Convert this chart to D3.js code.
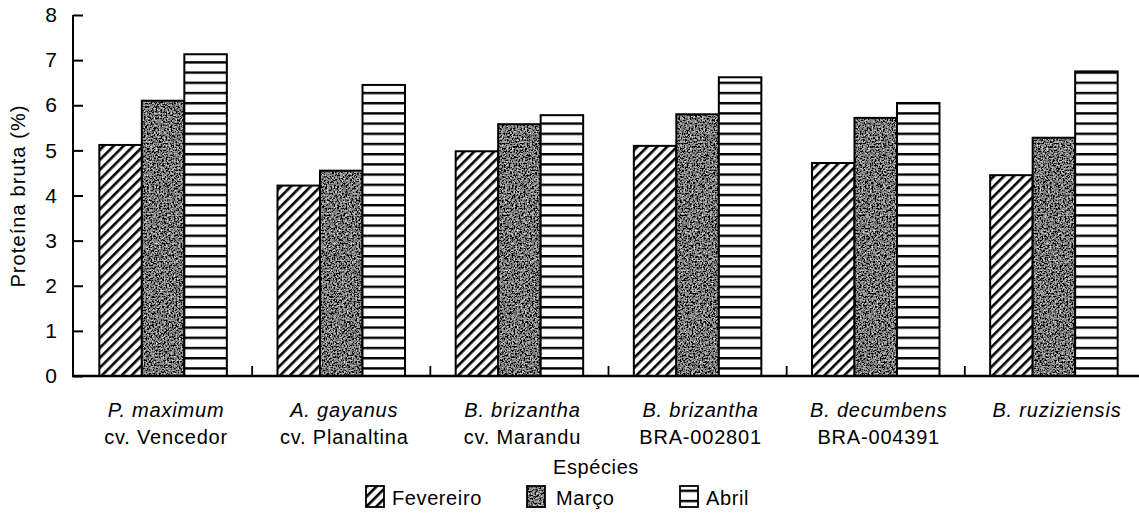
<!DOCTYPE html>
<html>
<head>
<meta charset="utf-8">
<script src="https://cdn.jsdelivr.net/npm/d3@7"></script>
<style>
  html, body { margin: 0; padding: 0; background: #fff; }
  svg { display: block; }
  text { font-family: "Liberation Sans", Arial, Helvetica, sans-serif; fill: #000; }
</style>
</head>
<body>
<svg id="chart" width="1139" height="525"></svg>
<script>
// ---- data ----
const speciesLine1 = ["P. maximum", "A. gayanus", "B. brizantha", "B. brizantha", "B. decumbens", "B. ruziziensis"];
const speciesLine2 = ["cv. Vencedor", "cv. Planaltina", "cv. Marandu", "BRA-002801", "BRA-004391", ""];
const months = ["Fevereiro", "Março", "Abril"];
const fevereiro = [5.12, 4.22, 4.98, 5.10, 4.72, 4.45];
const marco     = [6.10, 4.55, 5.58, 5.80, 5.72, 5.28];
const abril     = [7.13, 6.45, 5.78, 6.62, 6.05, 6.75];
const yTicks = [0, 1, 2, 3, 4, 5, 6, 7, 8];

const seriesValues = [fevereiro, marco, abril];

const svg = d3.select("#chart");
const defs = svg.append("defs");

// hatch pattern (Fevereiro)
const hatch = defs.append("pattern")
  .attr("id", "hatch").attr("patternUnits", "userSpaceOnUse")
  .attr("width", 7).attr("height", 7)
  .attr("patternTransform", "rotate(45)");
hatch.append("rect").attr("width", 7).attr("height", 7).attr("fill", "#fff");
hatch.append("rect").attr("x", 0).attr("y", 0).attr("width", 2.6).attr("height", 7).attr("fill", "#000");

// horizontal stripes (Abril)
const stripes = defs.append("pattern")
  .attr("id", "stripes").attr("patternUnits", "userSpaceOnUse")
  .attr("width", 10).attr("height", 10.2).attr("y", 0);
stripes.append("rect").attr("width", 10).attr("height", 10.2).attr("fill", "#fff");
stripes.append("rect").attr("x", 0).attr("y", 0).attr("width", 10).attr("height", 2.4).attr("fill", "#000");

// noise texture filter (Março)
const noise = defs.append("filter").attr("id", "noise")
  .attr("x", 0).attr("y", 0).attr("width", "100%").attr("height", "100%")
  .attr("filterUnits", "objectBoundingBox");
noise.append("feTurbulence").attr("type", "fractalNoise").attr("baseFrequency", 0.6)
  .attr("numOctaves", 3).attr("seed", 7).attr("result", "t");
noise.append("feColorMatrix").attr("in", "t").attr("type", "matrix")
  .attr("values", "0.33 0.33 0.33 0 0  0.33 0.33 0.33 0 0  0.33 0.33 0.33 0 0  0 0 0 0 1")
  .attr("result", "g");
const ct = noise.append("feComponentTransfer").attr("in", "g").attr("result", "c");
["feFuncR", "feFuncG", "feFuncB"].forEach(f =>
  ct.append(f).attr("type", "linear").attr("slope", 3.0).attr("intercept", -1.3));
noise.append("feComposite").attr("in", "c").attr("in2", "SourceGraphic").attr("operator", "in");

const fills = ["url(#hatch)", null, "url(#stripes)"];

// ---- scales ----
const x0 = d3.scaleBand().domain(d3.range(speciesLine1.length)).range([74, 1143]).paddingInner(0).paddingOuter(0);
const x1 = d3.scaleBand().domain(d3.range(months.length)).range([0, 127.5]);
const y = d3.scaleLinear().domain([0, 8]).range([376, 15]);

const bandW = x0.bandwidth();
const groupOffset = (bandW - 127.5) / 2;

// ---- bars ----
const groups = svg.append("g").selectAll("g")
  .data(speciesLine1.map((s, i) => i))
  .join("g")
  .attr("transform", i => `translate(${x0(i) + groupOffset},0)`);

groups.each(function(i) {
  const g = d3.select(this);
  seriesValues.forEach((vals, m) => {
    const xx = x1(m), w = x1.bandwidth(), yy = y(vals[i]), h = y(0) - y(vals[i]);
    if (m === 1) {
      g.append("rect").attr("x", xx).attr("y", yy).attr("width", w).attr("height", h)
        .attr("fill", "#000").attr("filter", "url(#noise)");
    } else {
      g.append("rect").attr("x", xx).attr("y", yy).attr("width", w).attr("height", h)
        .attr("fill", fills[m]);
    }
    g.append("rect").attr("x", xx).attr("y", yy).attr("width", w).attr("height", h)
      .attr("fill", "none").attr("stroke", "#000").attr("stroke-width", 2);
  });
});

// ---- axes ----
const yAxis = d3.axisLeft(y).tickValues(yTicks).tickSize(-10).tickPadding(16).tickFormat(d3.format("d"));
const gy = svg.append("g").attr("transform", "translate(73,0)").call(yAxis);
gy.select(".domain").attr("stroke-width", 2).attr("d", `M0,${y(8)}V${y(0)}`);
gy.selectAll(".tick line").attr("stroke-width", 2);
gy.selectAll(".tick text").style("font-size", "21px").style("font-family", "Liberation Sans, Arial, sans-serif");

const xAxis = d3.axisBottom(x0).tickValues([1, 2, 3, 4, 5]).tickSize(-10).tickFormat("");
const gx = svg.append("g").attr("transform", `translate(0,${y(0)})`).call(xAxis);
gx.selectAll(".tick").attr("transform", d => `translate(${x0(d)},0)`);
gx.select(".domain").attr("stroke-width", 2.5).attr("d", `M72,0H1139`);
gx.selectAll(".tick line").attr("stroke-width", 1.8);

// category labels
const labels = svg.append("g").selectAll("g").data(speciesLine1.map((s, i) => i)).join("g")
  .attr("transform", i => `translate(${x0(i) + bandW / 2 + 3},0)`);
labels.append("text").attr("y", 417).attr("text-anchor", "middle")
  .style("font-size", "20px").style("font-style", "italic").style("letter-spacing", "0.8px")
  .text(i => speciesLine1[i]);
labels.append("text").attr("y", 444).attr("text-anchor", "middle")
  .style("font-size", "20px").style("letter-spacing", "0.8px")
  .text(i => speciesLine2[i]);

// axis titles
svg.append("text").attr("x", 596).attr("y", 474).attr("text-anchor", "middle")
  .style("font-size", "20px").style("letter-spacing", "0.6px").text("Espécies");
svg.append("text").attr("transform", "translate(25,196) rotate(-90)").attr("text-anchor", "middle")
  .style("font-size", "20px").style("letter-spacing", "1.1px").text("Proteína bruta (%)");

// ---- legend ----
const legendX = [366, 527, 680];
const legendTextX = [392, 556, 706];
const leg = svg.append("g").selectAll("g").data(months.map((m, i) => i)).join("g");
leg.each(function(m) {
  const g = d3.select(this);
  if (m === 1) {
    g.append("rect").attr("x", legendX[m]).attr("y", 486).attr("width", 18).attr("height", 21)
      .attr("fill", "#000").attr("filter", "url(#noise)");
  } else {
    g.append("rect").attr("x", legendX[m]).attr("y", 486).attr("width", 18).attr("height", 21)
      .attr("fill", fills[m]);
  }
  g.append("rect").attr("x", legendX[m]).attr("y", 486).attr("width", 18).attr("height", 21)
    .attr("fill", "none").attr("stroke", "#000").attr("stroke-width", 1.8);
  g.append("text").attr("x", legendTextX[m]).attr("y", 505)
    .style("font-size", "20px").style("letter-spacing", "0.6px").text(months[m]);
});
</script>
</body>
</html>
